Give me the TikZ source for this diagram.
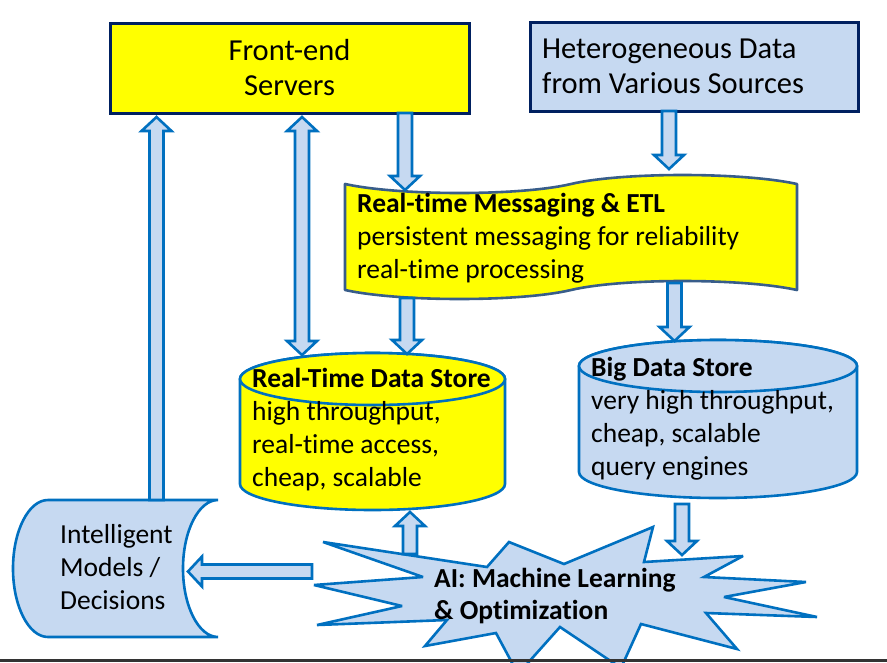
\documentclass[tikz,border=0pt]{standalone}
\usepackage{fontspec}
\setmainfont{Carlito}[Ligatures={CommonOff,ContextualOff}]
\usetikzlibrary{calc}
\definecolor{lblue}{RGB}{198,217,241}
\definecolor{dblue}{RGB}{0,112,192}
\definecolor{navy}{RGB}{0,32,96}
\definecolor{slate}{RGB}{56,93,138}
\definecolor{barc}{RGB}{51,51,51}
\definecolor{yel}{RGB}{255,255,0}
\newcommand\sr{\rule{0pt}{21pt}}
\newcommand\srb{\rule{0pt}{23pt}}
% single block arrow from #1 to tip #2
\newcommand\blockarrow[2]{%
  \coordinate (ba-h) at ($(#2)!14pt!(#1)$);
  \draw[barrow] ($(#1)!7pt!90:(#2)$) -- ($(ba-h)!7pt!-90:(#1)$) -- ($(ba-h)!15pt!-90:(#1)$)
    -- (#2) -- ($(ba-h)!15pt!90:(#1)$) -- ($(ba-h)!7pt!90:(#1)$) -- ($(#1)!7pt!-90:(#2)$) -- cycle;}
% double block arrow with tips #1 and #2
\newcommand\dblockarrow[2]{%
  \coordinate (da-a) at ($(#1)!14pt!(#2)$);
  \coordinate (da-b) at ($(#2)!14pt!(#1)$);
  \draw[barrow] (#1) -- ($(da-a)!15pt!90:(#2)$) -- ($(da-a)!7pt!90:(#2)$) -- ($(da-b)!7pt!-90:(#1)$)
    -- ($(da-b)!15pt!-90:(#1)$) -- (#2) -- ($(da-b)!15pt!90:(#1)$) -- ($(da-b)!7pt!90:(#1)$)
    -- ($(da-a)!7pt!-90:(#2)$) -- ($(da-a)!15pt!-90:(#2)$) -- cycle;}
\begin{document}
\begin{tikzpicture}[x=1pt,y=-1pt,
  barrow/.style={draw=dblue, fill=lblue, line width=2.6pt, line join=miter},
  topbox/.style={draw=navy, line width=3pt},
  bshape/.style={draw=dblue, line width=2.6pt},
  txt/.style={anchor=north west, inner sep=0pt, align=left, font=\fontsize{27.5}{33}\selectfont},
  bigtxt/.style={txt, font=\fontsize{30.5}{35}\selectfont}]
\useasboundingbox (0,0) rectangle (887,662);
\clip (0,0) rectangle (887,662);
\fill[white] (0,0) rectangle (887,662);

% Front-end servers
\draw[topbox, fill=yel] (110,23) rectangle (469,113);
\node[bigtxt, anchor=north, align=center] (fe) at (289.5,37) {\srb Front-end\\Servers};
% Heterogeneous data
\draw[topbox, fill=lblue] (530,22) rectangle (858,111);
\node[bigtxt] (het) at (542,35) {\srb Heterogeneous Data\\from Various Sources};

% Messaging tape
\draw[draw=slate, fill=yel, line width=2.6pt, line join=round]
  (345,184) .. controls (400,196) and (520,196) .. (571,184)
  .. controls (622,172) and (742,172) .. (797,184) -- (797,290)
  .. controls (742,278) and (622,278) .. (571,290)
  .. controls (520,302) and (400,302) .. (345,290) -- cycle;
\node[txt] (msg) at (357,191) {\sr\textbf{Real-time Messaging \& ETL}\\persistent messaging for reliability\\real-time processing};

% Real-time data store cylinder
\draw[bshape, fill=yel] (240,379) -- (240,484) arc[start angle=180, end angle=0, x radius=132.5, y radius=26]
  -- (505,379) arc[start angle=0, end angle=-180, x radius=132.5, y radius=26] -- cycle;
\draw[bshape, fill=yel] (372.5,379) ellipse[x radius=132.5, y radius=26];
\node[txt] (rt) at (252,366) {\sr\textbf{Real-Time Data Store}\\high throughput,\\real-time access,\\cheap, scalable};

% Big data store cylinder
\draw[bshape, fill=lblue] (579,366) -- (579,472) arc[start angle=180, end angle=0, x radius=139, y radius=26]
  -- (857,366) arc[start angle=0, end angle=-180, x radius=139, y radius=26] -- cycle;
\draw[bshape, fill=lblue] (718,366) ellipse[x radius=139, y radius=26];
\node[txt] (big) at (591,355) {\sr\textbf{Big Data Store}\\very high throughput,\\cheap, scalable\\query engines};

% Intelligent models (stored data shape)
\draw[bshape, fill=lblue] (48,500) -- (218,500)
  .. controls (198.7,500) and (183,530.7) .. (183,568.5)
  .. controls (183,606.3) and (198.7,637) .. (218,637) -- (48,637)
  .. controls (28.7,637) and (13,606.3) .. (13,568.5)
  .. controls (13,530.7) and (28.7,500) .. (48,500) -- cycle;
\node[txt] (intel) at (60,522) {\sr Intelligent\\Models /\\Decisions};

% AI starburst
\draw[bshape, fill=lblue, line join=miter, miter limit=4]
  (323,542) -- (487,567) -- (509,542) -- (564,564) -- (653,527) -- (644,562)
  -- (743,556) -- (704,577) -- (806,582) -- (724,597) -- (817,617) -- (706,613)
  -- (737,649) -- (641,624) -- (621,668) -- (560,627) -- (518,674) -- (496,633)
  -- (425,646) -- (447,620) -- (317,625) -- (402,606) -- (314,585) -- (423,577) -- cycle;
\node[txt, font=\fontsize{27.5}{32}\selectfont] (ai) at (434,566) {\sr\textbf{AI: Machine Learning}\\\textbf{\& Optimization}};

% arrow end points
\coordinate (a1) at (156.5,500); \coordinate (a2) at (156.5,117);
\coordinate (b1) at (302,117);   \coordinate (b2) at (302,355);
\coordinate (c1) at (405,113);   \coordinate (c2) at (405,190);
\coordinate (d1) at (669,111);   \coordinate (d2) at (669,169);
\coordinate (e1) at (407,298);   \coordinate (e2) at (407,354);
\coordinate (f1) at (674.5,283); \coordinate (f2) at (674.5,341);
\coordinate (g1) at (410,554);   \coordinate (g2) at (410,512);
\coordinate (h1) at (682,504);   \coordinate (h2) at (682,555);
\coordinate (i1) at (312,571.5); \coordinate (i2) at (188,571.5);

\blockarrow{a1}{a2}
\dblockarrow{b1}{b2}
\blockarrow{c1}{c2}
\blockarrow{d1}{d2}
\blockarrow{e1}{e2}
\blockarrow{f1}{f2}
\blockarrow{g1}{g2}
\blockarrow{h1}{h2}
\blockarrow{i1}{i2}

% bottom bar
\fill[barc] (0,659) rectangle (887,662);
\end{tikzpicture}
\end{document}
